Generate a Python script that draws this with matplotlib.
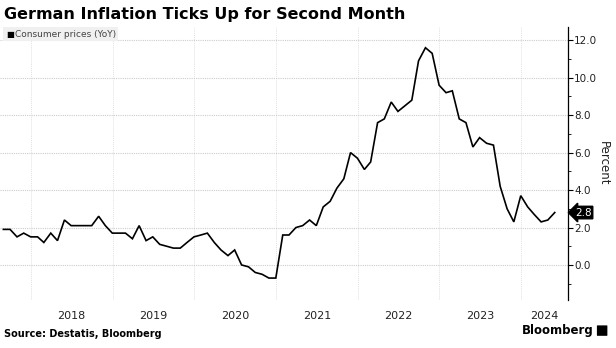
import matplotlib.pyplot as plt
import matplotlib.dates as mdates
from matplotlib.patches import FancyBboxPatch
import pandas as pd
import datetime as dt

# German consumer prices, YoY %, monthly from Aug 2017 to May 2024
values_2017 = [1.9, 1.9, 1.5, 1.7, 1.5]
values_2018 = [1.5, 1.2, 1.7, 1.3, 2.4, 2.1, 2.1, 2.1, 2.1, 2.6, 2.1, 1.7]
values_2019 = [1.7, 1.7, 1.4, 2.1, 1.3, 1.5, 1.1, 1.0, 0.9, 0.9, 1.2, 1.5]
values_2020 = [1.6, 1.7, 1.2, 0.8, 0.5, 0.8, 0.0, -0.1, -0.4, -0.5, -0.7, -0.7]
values_2021 = [1.6, 1.6, 2.0, 2.1, 2.4, 2.1, 3.1, 3.4, 4.1, 4.6, 6.0, 5.7]
values_2022 = [5.1, 5.5, 7.6, 7.8, 8.7, 8.2, 8.5, 8.8, 10.9, 11.6, 11.3, 9.6]
values_2023 = [9.2, 9.3, 7.8, 7.6, 6.3, 6.8, 6.5, 6.4, 4.2, 3.0, 2.3, 3.7]
values_2024 = [3.1, 2.7, 2.3, 2.4, 2.8]

cpi = (values_2017 + values_2018 + values_2019 + values_2020
       + values_2021 + values_2022 + values_2023 + values_2024)
dates = pd.date_range("2017-08-31", periods=len(cpi), freq="ME")

years = [2018, 2019, 2020, 2021, 2022, 2023, 2024]
yticks = [0, 2, 4, 6, 8, 10, 12]

fig = plt.figure(figsize=(6.16, 3.48), dpi=100)
ax = fig.add_axes([0.0, 0.138, 0.922, 0.784])

ax.plot(dates, cpi, color="black", lw=1.2, solid_joinstyle="miter", zorder=3)

start = mdates.date2num(dt.datetime(2018, 1, 1))
x_lo, x_hi = start - 138, start + 2401
ax.set_xlim(x_lo, x_hi)
ax.set_ylim(-1.87, 12.7)

# year boundaries as gridlines, year names centred in the visible part of each year
bounds = [mdates.date2num(dt.datetime(y, 1, 1)) for y in years]
ends = [min(mdates.date2num(dt.datetime(y + 1, 1, 1)), x_hi) for y in years]
ax.set_xticks(bounds)
ax.set_xticks([(a + b) / 2 for a, b in zip(bounds, ends)], minor=True)
ax.set_xticklabels([])
ax.set_xticklabels([str(y) for y in years], minor=True)
ax.tick_params(axis="x", which="both", length=0, labelsize=8, labelcolor="#222222", pad=8)
ax.grid(axis="x", which="major", color="#e2e2e2", lw=0.7, ls=(0, (1, 1)))

ax.yaxis.tick_right()
ax.yaxis.set_label_position("right")
ax.set_yticks(yticks)
ax.set_yticklabels([f"{v:.1f}" for v in yticks])
ax.set_yticks(range(-1, 13), minor=True)
ax.tick_params(axis="y", which="major", length=3.5, width=0.8, labelsize=7.5,
               labelcolor="#222222", pad=1)
ax.tick_params(axis="y", which="minor", length=2, width=0.6)
ax.grid(axis="y", which="major", color="#cccccc", lw=0.8, ls=(0, (1, 1)))
ax.set_ylabel("Percent", rotation=270, fontsize=8.5, color="#222222", labelpad=9)

for side in ["top", "left", "bottom"]:
    ax.spines[side].set_visible(False)
ax.spines["right"].set_linewidth(0.9)

# latest value tag on the axis
ax.annotate(f"{cpi[-1]:.1f}", xy=(1, cpi[-1]), xycoords=("axes fraction", "data"),
            xytext=(5, 0), textcoords="offset points", va="center", ha="left",
            fontsize=7.5, color="white", annotation_clip=False,
            bbox=dict(boxstyle="larrow,pad=0.12", fc="black", ec="black"))

# legend box
fig.patches.append(FancyBboxPatch((0.005, 0.882), 0.187, 0.040, boxstyle="square,pad=0",
                                  transform=fig.transFigure, fc="#f0f0f0", ec="none"))
fig.text(0.010, 0.902, "\u25a0", fontsize=6, va="center", color="black")
fig.text(0.024, 0.902, "Consumer prices (YoY)", fontsize=6.5, va="center", color="#444444")

fig.text(0.006, 0.958, "German Inflation Ticks Up for Second Month",
         fontsize=11.5, fontweight="bold", va="center", color="black")
fig.text(0.006, 0.040, "Source: Destatis, Bloomberg", fontsize=7,
         fontweight="bold", va="center", color="black")
fig.text(0.963, 0.050, "Bloomberg", fontsize=8.5, fontweight="bold",
         va="center", ha="right", color="black")
fig.patches.append(FancyBboxPatch((0.970, 0.036), 0.015, 0.028, boxstyle="round,pad=0.001",
                                  transform=fig.transFigure, fc="black", ec="none"))

fig.savefig("out.png", dpi=100)
